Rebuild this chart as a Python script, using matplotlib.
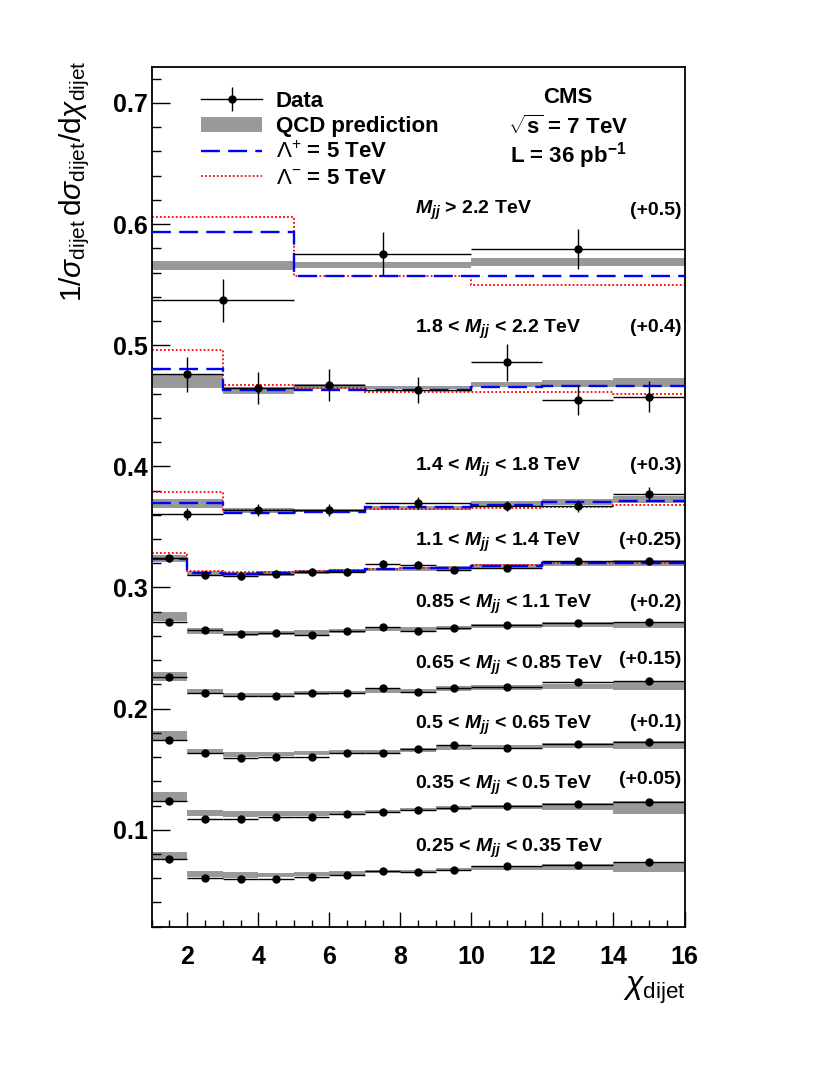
import numpy as np
import matplotlib
matplotlib.use("Agg")
import matplotlib.pyplot as plt
from matplotlib.ticker import MultipleLocator, FormatStrFormatter
from matplotlib.lines import Line2D
from matplotlib.patches import Patch
from matplotlib.legend_handler import HandlerTuple

plt.rcParams['font.family'] = ['Liberation Sans', 'DejaVu Sans']
plt.rcParams['mathtext.fontset'] = 'custom'
plt.rcParams['mathtext.rm'] = 'Liberation Sans'
plt.rcParams['mathtext.it'] = 'Liberation Sans:italic'
plt.rcParams['mathtext.bf'] = 'Liberation Sans:bold'
plt.rcParams['mathtext.bfit'] = 'Liberation Sans:bold:italic'

# ---------------- data (values as displayed, offsets included) ----------------
edges_std = [1, 2, 3, 4, 5, 6, 7, 8, 9, 10, 12, 14, 16]
edges_mid = [1, 3, 5, 7, 10, 12, 14, 16]
edges_top = [1, 5, 10, 16]

# M_jj > 2.2 TeV (+0.5)
data_p9 = [0.537, 0.5756, 0.5794]
err_p9 = [0.018, 0.018, 0.0165]
qcd_p9 = [0.5657, 0.566, 0.5687]
qcdw_p9 = [0.0037, 0.0025, 0.003]
lplus_p9 = [0.5935, 0.5574, 0.5569]
lminus_p9 = [0.6056, 0.5574, 0.5494]

# 1.8 < M_jj < 2.2 TeV (+0.4)
data_p8 = [0.4762, 0.4649, 0.4671, 0.463, 0.4858, 0.4548, 0.4575]
err_p8 = [0.0144, 0.0134, 0.0134, 0.0107, 0.015, 0.0123, 0.0126]
qcd_p8 = [0.4699, 0.4625, 0.4658, 0.465, 0.4677, 0.4682, 0.4696]
qcdw_p8 = [0.0055, 0.0027, 0.002, 0.0015, 0.0023, 0.003, 0.0037]
lplus_p8 = [0.4803, 0.463, 0.463, 0.463, 0.4658, 0.4663, 0.4666]
lminus_p8 = [0.4964, 0.4671, 0.4644, 0.4611, 0.4611, 0.4616, 0.4595]

# 1.4 < M_jj < 1.8 TeV (+0.3)
data_p7 = [0.3608, 0.3638, 0.3638, 0.3699, 0.3671, 0.3671, 0.3773]
err_p7 = [0.005, 0.005, 0.005, 0.005, 0.004, 0.005, 0.006]
qcd_p7 = [0.3693, 0.3633, 0.3636, 0.3655, 0.3693, 0.3707, 0.3726]
qcdw_p7 = [0.0034, 0.002, 0.0015, 0.0015, 0.0017, 0.0022, 0.0027]
lplus_p7 = [0.3699, 0.3616, 0.362, 0.3663, 0.368, 0.3704, 0.3718]
lminus_p7 = [0.3786, 0.3638, 0.363, 0.365, 0.3658, 0.3666, 0.3685]

# 1.1 < M_jj < 1.4 TeV (+0.25)
data_p6 = [0.3242, 0.3105, 0.3096, 0.3113, 0.3127, 0.3127, 0.3193, 0.3187, 0.3146, 0.3165, 0.322, 0.322]
err_p6 = [0.003, 0.003, 0.003, 0.003, 0.003, 0.003, 0.003, 0.003, 0.003, 0.002, 0.002, 0.002]
qcd_p6 = [0.3242, 0.3115, 0.3108, 0.3116, 0.313, 0.3138, 0.315, 0.3155, 0.3163, 0.3177, 0.3198, 0.32]
qcdw_p6 = [0.003, 0.002, 0.002, 0.0018, 0.0017, 0.0015, 0.0015, 0.0015, 0.0015, 0.0017, 0.002, 0.0025]
lplus_p6 = [0.3237, 0.3118, 0.311, 0.3118, 0.3132, 0.314, 0.3151, 0.316, 0.3165, 0.3179, 0.3201, 0.3201]
lminus_p6 = [0.3284, 0.314, 0.3127, 0.3132, 0.314, 0.3146, 0.3151, 0.3165, 0.3165, 0.3187, 0.3201, 0.3201]

# 0.85 < M_jj < 1.1 TeV (+0.2)
data_p5 = [0.2714, 0.2645, 0.2615, 0.2628, 0.2604, 0.2637, 0.267, 0.2637, 0.2664, 0.2692, 0.2705, 0.2714]
err_p5 = [0.0012] * 12
qcd_p5 = [0.2758, 0.264, 0.262, 0.2623, 0.2631, 0.264, 0.2659, 0.2659, 0.2667, 0.2683, 0.2692, 0.2694]
qcdw_p5 = [0.0037, 0.0025, 0.002, 0.0015, 0.002, 0.0017, 0.0017, 0.0015, 0.0017, 0.0017, 0.002, 0.0025]

# 0.65 < M_jj < 0.85 TeV (+0.15)
data_p4 = [0.2257, 0.2127, 0.2105, 0.2105, 0.2127, 0.2127, 0.2169, 0.2136, 0.2174, 0.2182, 0.2216, 0.2229]
err_p4 = [0.001] * 12
qcd_p4 = [0.2265, 0.2141, 0.2113, 0.2116, 0.2127, 0.2133, 0.215, 0.2147, 0.2166, 0.2174, 0.2185, 0.2185]
qcdw_p4 = [0.0035, 0.002, 0.0018, 0.0015, 0.0018, 0.0015, 0.0017, 0.0015, 0.0017, 0.0018, 0.002, 0.0035]

# 0.5 < M_jj < 0.65 TeV (+0.1)
data_p3 = [0.1742, 0.1632, 0.1596, 0.1604, 0.1604, 0.1632, 0.1637, 0.1665, 0.1701, 0.1679, 0.1706, 0.1728]
err_p3 = [0.001] * 12
qcd_p3 = [0.1778, 0.1643, 0.1621, 0.1624, 0.1632, 0.164, 0.1646, 0.1662, 0.1674, 0.1682, 0.1693, 0.1699]
qcdw_p3 = [0.0035, 0.002, 0.0019, 0.0017, 0.0018, 0.0015, 0.0014, 0.0017, 0.0017, 0.0018, 0.002, 0.0033]

# 0.35 < M_jj < 0.5 TeV (+0.05)
data_p2 = [0.1234, 0.1088, 0.1088, 0.1105, 0.1105, 0.1129, 0.1146, 0.1165, 0.1179, 0.1198, 0.1209, 0.1228]
err_p2 = [0.0008] * 12
qcd_p2 = [0.1272, 0.114, 0.1129, 0.1132, 0.1135, 0.114, 0.1151, 0.1165, 0.1176, 0.119, 0.119, 0.1184]
qcdw_p2 = [0.0037, 0.0025, 0.0023, 0.002, 0.0018, 0.0017, 0.0014, 0.0014, 0.0017, 0.0018, 0.003, 0.005]

# 0.25 < M_jj < 0.35 TeV (+0)
data_p1 = [0.0758, 0.0601, 0.0593, 0.0593, 0.0606, 0.0623, 0.0661, 0.065, 0.0664, 0.0697, 0.0711, 0.0733]
err_p1 = [0.0008] * 12
qcd_p1 = [0.0783, 0.0637, 0.0626, 0.0626, 0.0634, 0.0642, 0.0656, 0.0656, 0.067, 0.0686, 0.0692, 0.0692]
qcdw_p1 = [0.003, 0.0026, 0.0025, 0.0018, 0.0018, 0.0014, 0.0014, 0.0014, 0.0014, 0.0017, 0.0026, 0.004]

panel_labels = [
    r'$\mathbfit{M}_{\mathbfit{jj}}$ > 2.2 TeV',
    r'1.8 < $\mathbfit{M}_{\mathbfit{jj}}$ < 2.2 TeV',
    r'1.4 < $\mathbfit{M}_{\mathbfit{jj}}$ < 1.8 TeV',
    r'1.1 < $\mathbfit{M}_{\mathbfit{jj}}$ < 1.4 TeV',
    r'0.85 < $\mathbfit{M}_{\mathbfit{jj}}$ < 1.1 TeV',
    r'0.65 < $\mathbfit{M}_{\mathbfit{jj}}$ < 0.85 TeV',
    r'0.5 < $\mathbfit{M}_{\mathbfit{jj}}$ < 0.65 TeV',
    r'0.35 < $\mathbfit{M}_{\mathbfit{jj}}$ < 0.5 TeV',
    r'0.25 < $\mathbfit{M}_{\mathbfit{jj}}$ < 0.35 TeV',
]
offset_labels = ['(+0.5)', '(+0.4)', '(+0.3)', '(+0.25)', '(+0.2)', '(+0.15)', '(+0.1)', '(+0.05)', '']
label_y = [0.611, 0.5128, 0.399, 0.3371, 0.2857, 0.236, 0.1865, 0.1369, 0.0849]
offset_y = [0.611, 0.5144, 0.4005, 0.3386, 0.2874, 0.2403, 0.1883, 0.1412, 0.0]

panels = [
    (edges_top, data_p9, err_p9, qcd_p9, qcdw_p9, lplus_p9, lminus_p9),
    (edges_mid, data_p8, err_p8, qcd_p8, qcdw_p8, lplus_p8, lminus_p8),
    (edges_mid, data_p7, err_p7, qcd_p7, qcdw_p7, lplus_p7, lminus_p7),
    (edges_std, data_p6, err_p6, qcd_p6, qcdw_p6, lplus_p6, lminus_p6),
    (edges_std, data_p5, err_p5, qcd_p5, qcdw_p5, None, None),
    (edges_std, data_p4, err_p4, qcd_p4, qcdw_p4, None, None),
    (edges_std, data_p3, err_p3, qcd_p3, qcdw_p3, None, None),
    (edges_std, data_p2, err_p2, qcd_p2, qcdw_p2, None, None),
    (edges_std, data_p1, err_p1, qcd_p1, qcdw_p1, None, None),
]

# ---------------- figure ----------------
fig = plt.figure(figsize=(8.3, 10.75), dpi=100)
ax = fig.add_axes([0.1828, 0.138, 0.6419, 0.800])

qcd_color = '#999999'
blue_ls = (0, (8, 3.5))
red_ls = (0, (1, 1.2))
for edges, d, e, q, qw, lp, lm in panels:
    edges = np.asarray(edges, float)
    widths = np.diff(edges)
    centers = edges[:-1] + widths / 2
    q = np.asarray(q); qw = np.asarray(qw)
    ax.bar(edges[:-1], 2 * qw, bottom=q - qw, width=widths, align='edge',
           color=qcd_color, edgecolor='none', zorder=1)
    if lp is not None:
        ax.stairs(lm, edges, baseline=None, color='red', lw=1.3,
                  linestyle=red_ls, zorder=2)
        ax.stairs(lp, edges, baseline=None, color='blue', lw=1.7,
                  linestyle=blue_ls, zorder=3)
    ax.errorbar(centers, d, xerr=widths / 2, yerr=e, fmt='o', color='black',
                ms=5, lw=1.0, elinewidth=1.0, capsize=0, zorder=4)

for lab, off, yl, yo in zip(panel_labels, offset_labels, label_y, offset_y):
    ax.text(8.4, yl, lab, fontsize=14, fontweight='bold', ha='left', va='center')
    if off:
        ax.text(15.92, yo, off, fontsize=14, fontweight='bold', ha='right', va='center')

ax.set_xlim(1, 16)
ax.set_ylim(0.02, 0.73)
ax.xaxis.set_major_locator(MultipleLocator(2))
ax.xaxis.set_minor_locator(MultipleLocator(0.5))
ax.yaxis.set_major_locator(MultipleLocator(0.1))
ax.yaxis.set_minor_locator(MultipleLocator(0.02))
ax.xaxis.set_major_formatter(FormatStrFormatter('%d'))
ax.yaxis.set_major_formatter(FormatStrFormatter('%.1f'))
ax.tick_params(axis='both', which='both', direction='in', top=False, right=False)
ax.tick_params(axis='y', which='major', length=13, width=1.0, pad=3, labelsize=18)
ax.tick_params(axis='y', which='minor', length=6.5, width=1.0)
ax.tick_params(axis='x', which='major', length=11, width=1.0, pad=13, labelsize=18)
ax.tick_params(axis='x', which='minor', length=5, width=1.0)
for lbl in ax.get_xticklabels() + ax.get_yticklabels():
    lbl.set_fontweight('bold')
for sp in ax.spines.values():
    sp.set_linewidth(1.3)

# legend
h_data = (Line2D([], [], color='black', lw=1.0, marker='o', ms=5),
          Line2D([], [], color='black', ls='none', marker='|', ms=17, mew=1.0))
h_qcd = Patch(facecolor=qcd_color, edgecolor='none')
h_lp = Line2D([], [], color='blue', lw=1.7, linestyle=blue_ls)
h_lm = Line2D([], [], color='red', lw=1.3, linestyle=red_ls)
leg = ax.legend([h_data, h_qcd, h_lp, h_lm],
                ['Data', 'QCD prediction', r'$\Lambda^{+}$ = 5 TeV', r'$\Lambda^{-}$ = 5 TeV'],
                loc='upper left', bbox_to_anchor=(0.076, 0.982), frameon=False,
                prop={'weight': 'bold', 'size': 16}, handlelength=2.75,
                handletextpad=0.6, labelspacing=0.2, borderaxespad=0,
                handler_map={tuple: HandlerTuple(ndivide=1)})

ax.text(0.781, 0.9636, 'CMS', transform=ax.transAxes, fontsize=16, fontweight='bold',
        ha='center', va='center')
ax.text(0.781, 0.930, r'$\sqrt{\mathbf{s}}$ = 7 TeV', transform=ax.transAxes, fontsize=16,
        fontweight='bold', ha='center', va='center')
ax.text(0.781, 0.897, r'L = 36 pb$^{\mathbf{-1}}$', transform=ax.transAxes, fontsize=16,
        fontweight='bold', ha='center', va='center')

fig.text(0.0904, 0.944, r'$1/\sigma_{\mathrm{dijet}}\,\mathrm{d}\sigma_{\mathrm{dijet}}/\mathrm{d}\chi_{\mathrm{dijet}}$',
         rotation=90, ha='center', va='top', fontsize=21.5)
fig.text(0.826, 0.093, r'$\chi_{\mathrm{dijet}}$', ha='right', va='top', fontsize=23)

fig.savefig('out.png', dpi=100)
